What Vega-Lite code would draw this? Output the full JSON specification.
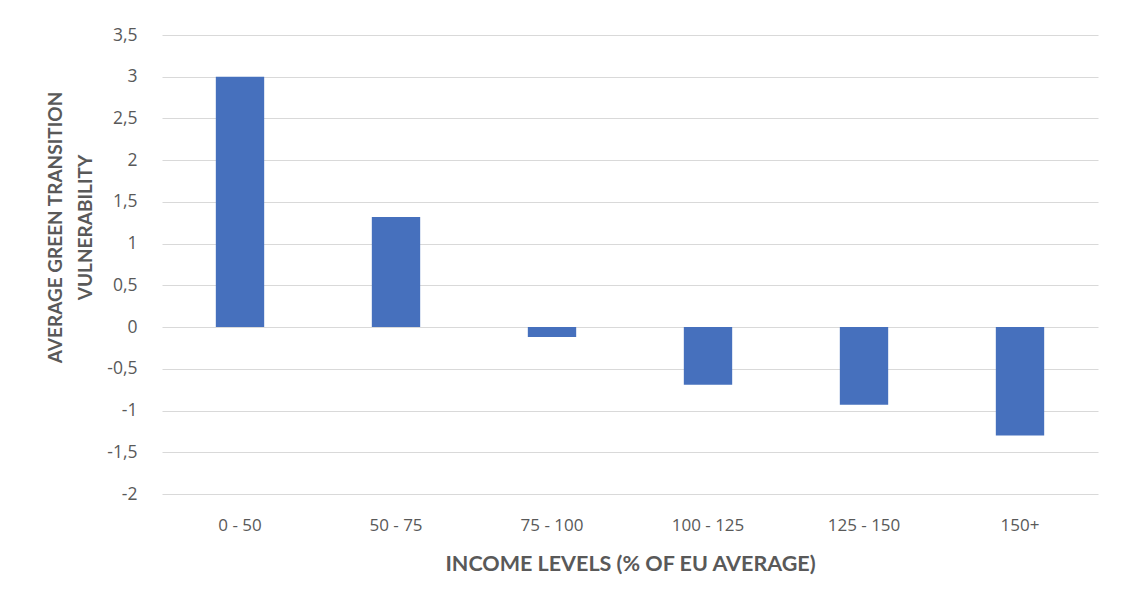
{
  "$schema": "https://vega.github.io/schema/vega-lite/v6.json",
  "autosize": "none",
  "width": 936,
  "height": 459,
  "padding": {"left": 162, "top": 35, "right": 25, "bottom": 110},
  "background": "white",
  "config": {
    "view": {"stroke": null},
    "font": "Lato"
  },
  "data": {
    "values": [
      {"income": "0 - 50", "vuln": 3.0},
      {"income": "50 - 75", "vuln": 1.32},
      {"income": "75 - 100", "vuln": -0.12},
      {"income": "100 - 125", "vuln": -0.69},
      {"income": "125 - 150", "vuln": -0.93},
      {"income": "150+", "vuln": -1.3}
    ]
  },
  "mark": {"type": "bar", "color": "#4670BD"},
  "encoding": {
    "x": {
      "field": "income",
      "type": "nominal",
      "sort": null,
      "scale": {"paddingInner": 0.69, "paddingOuter": 0.345},
      "axis": {
        "title": "INCOME LEVELS (% OF EU AVERAGE)",
        "titleFont": "Lato",
        "titleFontSize": 21.5,
        "titleFontWeight": "bold",
        "titleColor": "#595959",
        "titlePadding": 20,
        "labelAngle": 0,
        "labelFont": "Open Sans",
        "labelFontSize": 17,
        "labelColor": "#595959",
        "labelPadding": 23,
        "domain": false,
        "ticks": false,
        "grid": false
      }
    },
    "y": {
      "field": "vuln",
      "type": "quantitative",
      "scale": {"domain": [-2, 3.5], "nice": false},
      "axis": {
        "values": [-2, -1.5, -1, -0.5, 0, 0.5, 1, 1.5, 2, 2.5, 3, 3.5],
        "labelExpr": "replace('' + datum.value, '.', ',')",
        "title": ["AVERAGE GREEN TRANSITION", "VULNERABILITY"],
        "titleFont": "Lato",
        "titleFontSize": 19,
        "titleFontWeight": "bold",
        "titleColor": "#595959",
        "titleX": -107,
        "titleY": 192,
        "titleAngle": -90,
        "titleAlign": "center",
        "titleBaseline": "middle",
        "titleLineHeight": 30,
        "labelFont": "Open Sans",
        "labelFontSize": 17.5,
        "labelColor": "#595959",
        "labelPadding": 25,
        "domain": false,
        "ticks": false,
        "grid": true,
        "gridColor": "#d9d9d9",
        "gridWidth": 1.2
      }
    }
  }
}
